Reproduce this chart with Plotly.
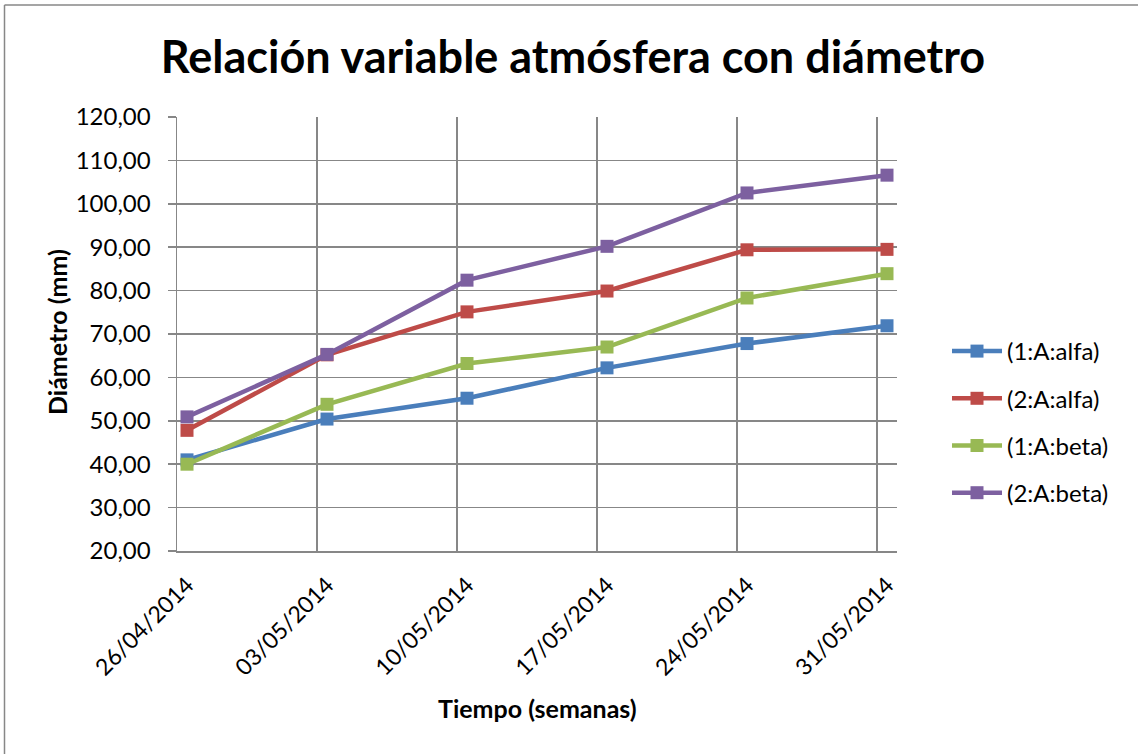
import pandas as pd
import plotly.graph_objects as go

# ---- data ----
fechas = ["26/04/2014", "03/05/2014", "10/05/2014", "17/05/2014", "24/05/2014", "31/05/2014"]
serie_1A_alfa = [41.0, 50.4, 55.2, 62.2, 67.8, 71.9]
serie_2A_alfa = [47.8, 65.2, 75.1, 79.9, 89.4, 89.5]
serie_1A_beta = [40.0, 53.8, 63.2, 67.0, 78.3, 83.9]
serie_2A_beta = [50.9, 65.3, 82.4, 90.2, 102.5, 106.6]
nombres = ["(1:A:alfa)", "(2:A:alfa)", "(1:A:beta)", "(2:A:beta)"]
colores = ["#4A7EBB", "#BE4B48", "#98B954", "#7D60A0"]

dias = pd.to_datetime(fechas, format="%d/%m/%Y")
x_pts = dias + pd.Timedelta(hours=12)      # Excel date axis: points centred in the day slot
x_fin = dias[-1] + pd.Timedelta(days=1)

W, H = 1138, 754
L, R, T, B = 177, 897, 117, 551   # plot area in pixels
FONT = "Lato"
GRID = "#878787"

fig = go.Figure()
for nombre, ys, col in zip(nombres, [serie_1A_alfa, serie_2A_alfa, serie_1A_beta, serie_2A_beta], colores):
    fig.add_trace(go.Scatter(
        x=x_pts, y=ys, name=nombre, mode="lines+markers",
        line=dict(color=col, width=4.5),
        marker=dict(symbol="square", size=13, color=col),
        legendgroup=nombre,
    ))

def px_x(p):
    return (p - L) / (R - L)

def px_y(p):
    return (B - p) / (B - T)

fig.update_layout(
    width=W, height=H,
    margin=dict(l=L, r=W - R, t=T, b=H - B, autoexpand=False),
    paper_bgcolor="white", plot_bgcolor="white",
    separators=",.",
    font=dict(family=FONT, size=24, color="black"),
    showlegend=True,
    legend=dict(
        x=px_x(947), y=px_y(329), xanchor="left", yanchor="top",
        font=dict(family=FONT, size=24, color="black"),
        tracegroupgap=13, itemwidth=50, bgcolor="rgba(0,0,0,0)",
    ),
    title=dict(
        text="<b>Relación variable atmósfera con diámetro</b>",
        x=573 / W, xref="container", xanchor="center",
        y=1 - 57 / H, yref="container", yanchor="middle",
        font=dict(family=FONT, size=45, color="black"),
    ),
    xaxis=dict(
        type="date", range=[dias[0], x_fin],
        tickmode="array", tickvals=x_pts, ticktext=fechas,
        tickangle=-45, showgrid=False, ticks="", ticklabelstandoff=10,
        tickfont=dict(family=FONT, size=23, color="black"),
        showline=True, linecolor=GRID, linewidth=1.5,
        minor=dict(tick0=dias[0], dtick=7 * 86400000, showgrid=True,
                   gridcolor=GRID, gridwidth=1.5, ticks=""),
        zeroline=False, fixedrange=True,
    ),
    yaxis=dict(
        range=[20, 120], dtick=10, tick0=20, tickformat=".2f",
        showgrid=True, gridcolor=GRID, gridwidth=1.5,
        ticks="outside", ticklen=8, tickcolor=GRID, tickwidth=1.5,
        showline=True, linecolor=GRID, linewidth=1.5,
        ticklabelstandoff=12,
        tickfont=dict(family=FONT, size=24, color="black"),
        zeroline=False, fixedrange=True,
    ),
    annotations=[
        dict(text="<b>Diámetro (mm)</b>", xref="paper", yref="paper",
             x=px_x(57), y=px_y(332), textangle=-90, showarrow=False,
             xanchor="center", yanchor="middle",
             font=dict(family=FONT, size=25, color="black")),
        dict(text="<b>Tiempo (semanas)</b>", xref="paper", yref="paper",
             x=px_x(537), y=px_y(708), showarrow=False,
             xanchor="center", yanchor="middle",
             font=dict(family=FONT, size=25, color="black")),
    ],
    shapes=[
        dict(type="line", xref="paper", yref="paper",
             x0=px_x(4.5), x1=px_x(1140), y0=px_y(5), y1=px_y(5),
             line=dict(color=GRID, width=1.5)),
        dict(type="line", xref="paper", yref="paper",
             x0=px_x(4.5), x1=px_x(4.5), y0=px_y(5), y1=px_y(760),
             line=dict(color=GRID, width=1.5)),
    ],
)

fig.write_html("out.html", config={"displayModeBar": False, "staticPlot": True},
               post_script="document.body.style.margin='0';document.body.style.overflow='hidden';")
